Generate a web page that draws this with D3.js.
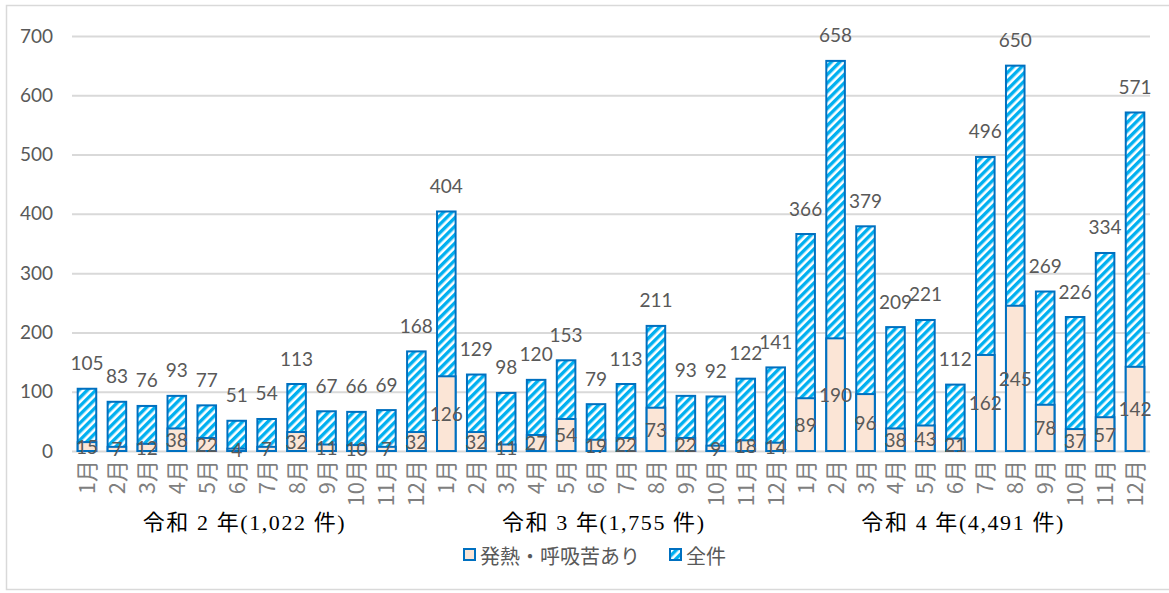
<!DOCTYPE html>
<html>
<head>
<meta charset="utf-8">
<script src="https://cdn.jsdelivr.net/npm/d3@7"></script>
<style>
  body { margin: 0; background: #fff; }
  svg text { fill: #595959; }
</style>
</head>
<body>
<div id="chart"></div>
<script>
'use strict';

// Data
const years = ['令和 2 年(1,022 件)', '令和 3 年(1,755 件)', '令和 4 年(4,491 件)'];
const months = ['1月', '2月', '3月', '4月', '5月', '6月', '7月', '8月', '9月', '10月', '11月', '12月'];

const totals = [
    105, 83, 76, 93, 77, 51, 54, 113, 67, 66, 69, 168,
    404, 129, 98, 120, 153, 79, 113, 211, 93, 92, 122, 141,
    366, 658, 379, 209, 221, 112, 496, 650, 269, 226, 334, 571
];
const feverCases = [
    15, 7, 12, 38, 22, 4, 7, 32, 11, 10, 7, 32,
    126, 32, 11, 27, 54, 19, 22, 73, 22, 9, 18, 14,
    89, 190, 96, 38, 43, 21, 162, 245, 78, 37, 57, 142
];
const yTicks = [0, 100, 200, 300, 400, 500, 600, 700];
const legendLabels = ['発熱・呼吸苦あり', '全件'];

const palette = { border: '#0070C0', hatch: '#00B0F0', peach: '#FBE5D6', grid: '#D9D9D9', text: '#595959' };

const width = 1169, height = 593;
const margins = { left: 72, right: 19, top: 36, bottom: 142 };

const rows = totals.map((t, i) => ({
    key: `${i}`,
    year: Math.floor(i / 12),
    month: months[i % 12],
    total: t,
    fever: feverCases[i]
}));

const svg = d3.select('#chart').append('svg')
    .attr('width', width)
    .attr('height', height);

// Hatch pattern (wide upward diagonal)
const defs = svg.append('defs');
const pat = defs.append('pattern')
    .attr('id', 'hatch')
    .attr('patternUnits', 'userSpaceOnUse')
    .attr('width', 6).attr('height', 6)
    .attr('patternTransform', 'rotate(45)');
pat.append('rect').attr('width', 6).attr('height', 6).attr('fill', '#fff');
pat.append('rect').attr('width', 3.4).attr('height', 6).attr('fill', palette.hatch);

// Outer frame
svg.append('rect')
    .attr('x', 6.5).attr('y', 5.5)
    .attr('width', width).attr('height', 584)
    .attr('fill', 'none')
    .attr('stroke', palette.grid)
    .attr('stroke-width', 1.5);

const scaleX = d3.scaleBand()
    .domain(rows.map(d => d.key))
    .range([margins.left, width - margins.right])
    .paddingInner(0.38)
    .paddingOuter(0.19);

const scaleY = d3.scaleLinear()
    .domain([0, 700])
    .range([height - margins.bottom, margins.top]);

// Gridlines + y labels
const axisY = svg.append('g')
    .attr('transform', `translate(${margins.left}, 0)`)
    .call(d3.axisLeft(scaleY).tickValues(yTicks).tickSize(-(width - margins.left - margins.right)).tickPadding(19));
axisY.select('.domain').remove();
axisY.selectAll('.tick line').attr('stroke', palette.grid).attr('stroke-width', 2);
axisY.selectAll('.tick text')
    .attr('fill', palette.text)
    .style('font-family', 'Lato, sans-serif')
    .style('font-size', '19px');

const chart = svg.append('g');

// Total bars (hatched)
chart.selectAll('rect.total')
    .data(rows)
    .join('rect')
    .classed('total', true)
    .attr('x', d => scaleX(d.key))
    .attr('y', d => scaleY(d.total))
    .attr('width', scaleX.bandwidth())
    .attr('height', d => scaleY(0) - scaleY(d.total))
    .attr('fill', 'url(#hatch)')
    .attr('stroke', palette.border)
    .attr('stroke-width', 2);

// Fever bars (peach)
chart.selectAll('rect.fever')
    .data(rows)
    .join('rect')
    .classed('fever', true)
    .attr('x', d => scaleX(d.key))
    .attr('y', d => scaleY(d.fever))
    .attr('width', scaleX.bandwidth())
    .attr('height', d => scaleY(0) - scaleY(d.fever))
    .attr('fill', palette.peach)
    .attr('stroke', palette.border)
    .attr('stroke-width', 2);

const cx = d => scaleX(d.key) + scaleX.bandwidth() / 2;

// Value labels
chart.selectAll('text.total-label')
    .data(rows)
    .join('text')
    .classed('total-label', true)
    .attr('x', cx)
    .attr('y', d => scaleY(d.total) - 26)
    .attr('text-anchor', 'middle')
    .attr('dominant-baseline', 'central')
    .style('font-family', 'Lato, sans-serif')
    .style('font-size', '19px')
    .text(d => d.total);

chart.selectAll('text.fever-label')
    .data(rows)
    .join('text')
    .classed('fever-label', true)
    .attr('x', cx)
    .attr('y', d => Math.min(scaleY(d.fever / 2), scaleY(0) - 2))
    .attr('text-anchor', 'middle')
    .attr('dominant-baseline', 'central')
    .style('font-family', 'Lato, sans-serif')
    .style('font-size', '19px')
    .text(d => d.fever);

// Month labels (rotated)
chart.selectAll('text.month')
    .data(rows)
    .join('text')
    .classed('month', true)
    .attr('transform', d => `translate(${cx(d) + 8}, ${scaleY(0) + 9}) rotate(-90)`)
    .attr('text-anchor', 'end')
    .style('fill', '#7f7f7f')
    .style('font-family', '"Noto Sans CJK JP", sans-serif')
    .style('font-size', '22px')
    .text(d => d.month);

// Year group labels
svg.selectAll('text.year')
    .data(years)
    .join('text')
    .classed('year', true)
    .attr('x', (d, i) => {
        const first = rows[i * 12].key, last = rows[i * 12 + 11].key;
        return (scaleX(first) + scaleX(last) + scaleX.bandwidth()) / 2 - 8;
    })
    .attr('y', 530)
    .attr('text-anchor', 'middle')
    .attr('textLength', 202)
    .attr('lengthAdjust', 'spacing')
    .style('fill', '#000')
    .style('font-family', '"Liberation Serif", "Noto Sans CJK JP", serif')
    .style('font-size', '22px')
    .text(d => d);

// Legend
const legend = svg.append('g').attr('transform', 'translate(463, 555)');
const legendX = [0, 206];
const items = legend.selectAll('g.legend-item')
    .data(legendLabels)
    .join('g')
    .classed('legend-item', true)
    .attr('transform', (d, i) => `translate(${legendX[i]}, 0)`);

items.append('rect')
    .attr('x', 1).attr('y', -6)
    .attr('width', 11).attr('height', 11)
    .attr('fill', (d, i) => i === 0 ? palette.peach : 'url(#hatch)')
    .attr('stroke', palette.border)
    .attr('stroke-width', 2);

items.append('text')
    .attr('x', 17)
    .attr('y', 0)
    .attr('dominant-baseline', 'central')
    .style('font-family', '"Noto Sans CJK JP", sans-serif')
    .style('font-size', '20px')
    .text(d => d);
</script>
</body>
</html>
